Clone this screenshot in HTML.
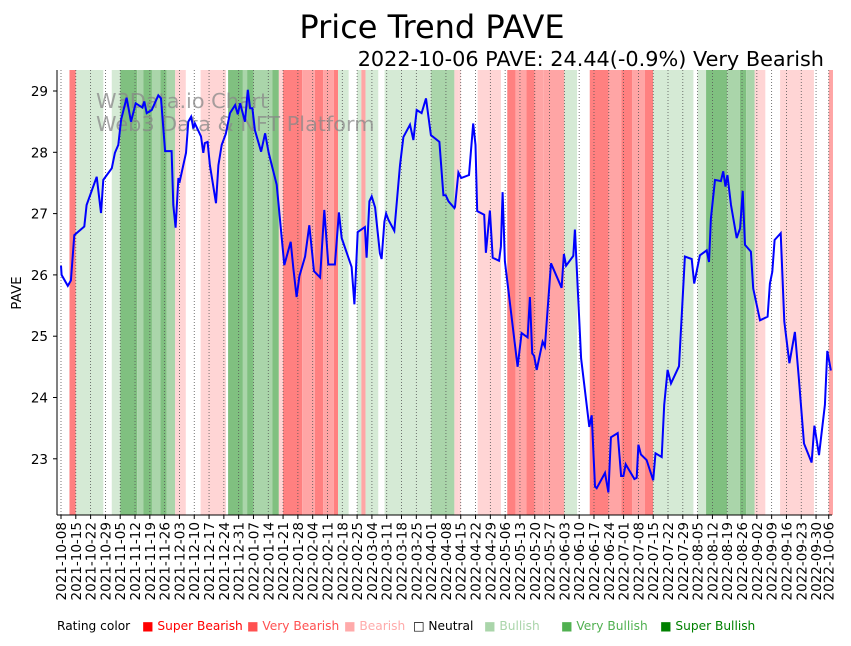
<!DOCTYPE html>
<html><head><meta charset="utf-8"><style>
body{margin:0;background:#fff;}
svg text{font-family:"DejaVu Sans","Liberation Sans",sans-serif;}
</style></head><body>
<svg id="chart" width="851" height="641" xmlns="http://www.w3.org/2000/svg">
<text x="432" y="38" font-size="32" text-anchor="middle">Price Trend PAVE</text>
<text x="824" y="66" font-size="20.8" text-anchor="end">2022-10-06 PAVE: 24.44(-0.9%) Very Bearish</text>
<g id="bands"></g>
<g id="grid"></g>
<g fill="#888" fill-opacity="0.75" font-size="20.8">
<text x="96" y="108">W3Data.io Chart</text><text x="96" y="131">Web3 Data &amp; NFT Platform</text></g>
<path id="line" fill="none" stroke="#0000ff" stroke-width="2"/>
<g id="axes"></g>
<text transform="translate(21,293) rotate(-90)" font-size="13.5" text-anchor="middle">PAVE</text>
<g font-size="12.2">
<text x="57" y="630">Rating color</text>
<text x="142" y="630" fill="#ff0000">■ Super Bearish</text>
<text x="247" y="630" fill="#ff5050">■ Very Bearish</text>
<text x="344" y="630" fill="#ffaaaa">■ Bearish</text>
<text x="413" y="630" fill="#000">□ Neutral</text>
<text x="484" y="630" fill="#aad5aa">■ Bullish</text>
<text x="561" y="630" fill="#50b050">■ Very Bullish</text>
<text x="660" y="630" fill="#008000">■ Super Bullish</text>
</g>
</svg>
<script>
const days=[0,0.3,3.2,4.7,6.3,11,12.1,16.9,18.9,20,24,25.5,27.1,28.4,31,33.1,35.3,38.5,39.4,40.5,42.9,46,47.3,49.2,52.3,53.1,54.2,55.5,56,59.1,60.2,61.5,62.6,63.3,66.2,67.3,68,69.3,70.4,73.3,74.4,76,77.9,79.9,82.3,83.6,84.7,87,88.3,89.4,90.5,91.7,94.6,96.5,98.2,102,105.6,108.6,109.9,111.4,112.7,115.4,117.4,119.6,122.5,124.5,126.4,129.5,131.4,132.7,137.4,138.7,140.3,143.7,144.5,145.8,146.9,148.5,150.8,151.6,152.9,153.7,154.8,157.6,160.3,161.9,165,166.6,168.2,170.5,172.6,174.9,178.9,180.8,181.9,183.2,186,186.3,187.9,189.2,192.9,194.9,196,196.8,200.1,200.9,202.8,204.1,207.1,208,208.8,209.9,215.9,217.8,220.6,221.7,222.8,223.7,224.9,227.7,228.8,231.7,236.7,237.8,238.8,242.2,243,245.9,249.8,250.9,252.5,253.3,257.2,258.8,260,263.2,264.8,265.9,267,271.1,272.2,273,274.2,276.9,280,281.1,284,285.2,286.8,288.4,292.2,295,298.2,299.4,302.1,305.3,306.4,307.3,309.2,312,313.1,314.2,315.1,316.8,319.5,321.1,322.3,323.4,326.2,327.3,330.5,334.1,335.2,336.3,337.4,340.3,342,344.4,347,348.9,351.3,354.9,356.2,358.4,361.2,362.3,364];
const prices=[26.15,26.0,25.82,25.91,26.65,26.79,27.14,27.6,27.01,27.55,27.74,27.99,28.12,28.53,28.89,28.5,28.8,28.73,28.83,28.64,28.69,28.93,28.88,28.02,28.02,27.14,26.77,27.58,27.5,27.99,28.5,28.58,28.39,28.47,28.26,27.99,28.15,28.17,27.79,27.17,27.79,28.12,28.3,28.64,28.77,28.62,28.8,28.5,29.02,28.72,28.72,28.36,28.01,28.31,27.99,27.47,26.16,26.54,26.1,25.64,25.98,26.3,26.81,26.06,25.96,27.06,26.17,26.17,27.02,26.6,26.13,25.52,26.7,26.78,26.28,27.2,27.28,27.1,26.35,26.26,26.87,27.0,26.9,26.72,27.79,28.25,28.45,28.2,28.69,28.64,28.88,28.28,28.17,27.3,27.3,27.2,27.09,27.11,27.67,27.58,27.63,28.47,28.12,27.04,26.98,26.36,27.05,26.28,26.23,26.46,27.35,26.22,24.5,25.05,24.98,25.64,24.72,24.68,24.45,24.91,24.83,26.19,25.79,26.34,26.15,26.31,26.74,24.64,23.52,23.71,22.55,22.52,22.77,22.45,23.35,23.42,22.72,22.72,22.91,22.67,22.69,23.23,23.07,22.98,22.65,23.09,23.03,23.88,24.45,24.23,24.51,26.3,26.26,25.86,26.32,26.4,26.21,26.92,27.55,27.53,27.69,27.44,27.63,27.14,26.6,26.76,27.37,26.49,26.38,25.78,25.26,25.32,25.86,26.05,26.57,26.68,25.24,24.56,25.07,24.3,23.25,22.94,23.54,23.06,23.88,24.76,24.44];
const bandStart=[4,7,24,28,36,39,43,47,50,54,66,79,86,88,91,100,103,105,114,120,124,129,131,140,142,144,153,175,186,188,197,211,215,220,224,228,238,250,259,265,270,276,280,301,305,315,321,324,328,340,363];
const bandEnd=[7,20,28,36,39,43,47,50,54,59,78,86,88,91,100,103,105,114,120,124,129,131,136,142,144,150,175,186,188,189,208,215,220,224,228,238,244,259,265,270,276,280,299,305,315,321,324,328,333,356,365];
const bandLevel=[-2,1,1,3,2,3,2,3,2,-1,-1,3,2,3,2,3,-1,-2,-1.5,-2,-1.5,-2,1,1,-1.5,1,1,2,-1,-1,-1,-2,-1.5,-2,-1.5,-1.5,1,-2,-1.5,-2,-1.5,-2,1,1,3,2,3,2,-1,-1,-1.5];
const yTicks=[23,24,25,26,27,28,29];
const tickDays=[];for(let k=0;k<=51;k++)tickDays.push(k*7);tickDays.push(363);
const X0=61,PX=2.115,Y29=91,PY=61.3;
const x=d=>X0+d*PX, y=v=>Y29+(29-v)*PY;
const NS='http://www.w3.org/2000/svg';
const colors={'3':'#80c080','2':'#aad5aa','1':'#d5ead5','-1':'#ffd5d5','-1.5':'#ffa5a5','-2':'#ff8080'};
const bg=document.getElementById('bands');
for(let i=0;i<bandStart.length;i++){
 const r=document.createElementNS(NS,'rect');
 
 
 r.setAttribute('x',x(bandStart[i]));r.setAttribute('y',70);
 r.setAttribute('width',(bandEnd[i]-bandStart[i])*PX);r.setAttribute('height',445);
 r.setAttribute('fill',colors[String(bandLevel[i])]);bg.appendChild(r);
}
const grid=document.getElementById('grid'),axes=document.getElementById('axes');
const start=new Date(Date.UTC(2021,9,8));
tickDays.forEach(d=>{
 const px=x(d);
 const l=document.createElementNS(NS,'line');
 
 
 l.setAttribute('x1',px);l.setAttribute('x2',px);l.setAttribute('y1',70);l.setAttribute('y2',515);
 l.setAttribute('stroke','#555');l.setAttribute('stroke-width','0.8');l.setAttribute('stroke-dasharray','1,2');grid.appendChild(l);
 const t=document.createElementNS(NS,'line');
 
 
 t.setAttribute('x1',px);t.setAttribute('x2',px);t.setAttribute('y1',515);t.setAttribute('y2',519);t.setAttribute('stroke','#000');axes.appendChild(t);
 const dt=new Date(start.getTime()+d*864e5);
 const s=dt.toISOString().slice(0,10);
 const tx=document.createElementNS(NS,'text');
 
 
 tx.setAttribute('transform','translate('+(px+5)+',522) rotate(-90)');
 tx.setAttribute('text-anchor','end');tx.setAttribute('font-size','13.5');tx.textContent=s;axes.appendChild(tx);
});
yTicks.forEach(v=>{
 const t=document.createElementNS(NS,'line');
 
 
 t.setAttribute('x1',53);t.setAttribute('x2',57);t.setAttribute('y1',y(v));t.setAttribute('y2',y(v));t.setAttribute('stroke','#000');axes.appendChild(t);
 const tx=document.createElementNS(NS,'text');
 
 
 tx.setAttribute('x',48);tx.setAttribute('y',y(v)+5);tx.setAttribute('text-anchor','end');tx.setAttribute('font-size','13.5');tx.textContent=v;axes.appendChild(tx);
});
[['57','70','57','515'],['57','515','832','515']].forEach(a=>{
 const l=document.createElementNS(NS,'line');
 
 
 l.setAttribute('x1',a[0]);l.setAttribute('y1',a[1]);l.setAttribute('x2',a[2]);l.setAttribute('y2',a[3]);l.setAttribute('stroke','#000');axes.appendChild(l);
});
document.getElementById('line').setAttribute('d',days.map((d,i)=>(i?'L':'M')+x(d).toFixed(1)+','+y(prices[i]).toFixed(1)).join(''));
</script>
</body></html>
